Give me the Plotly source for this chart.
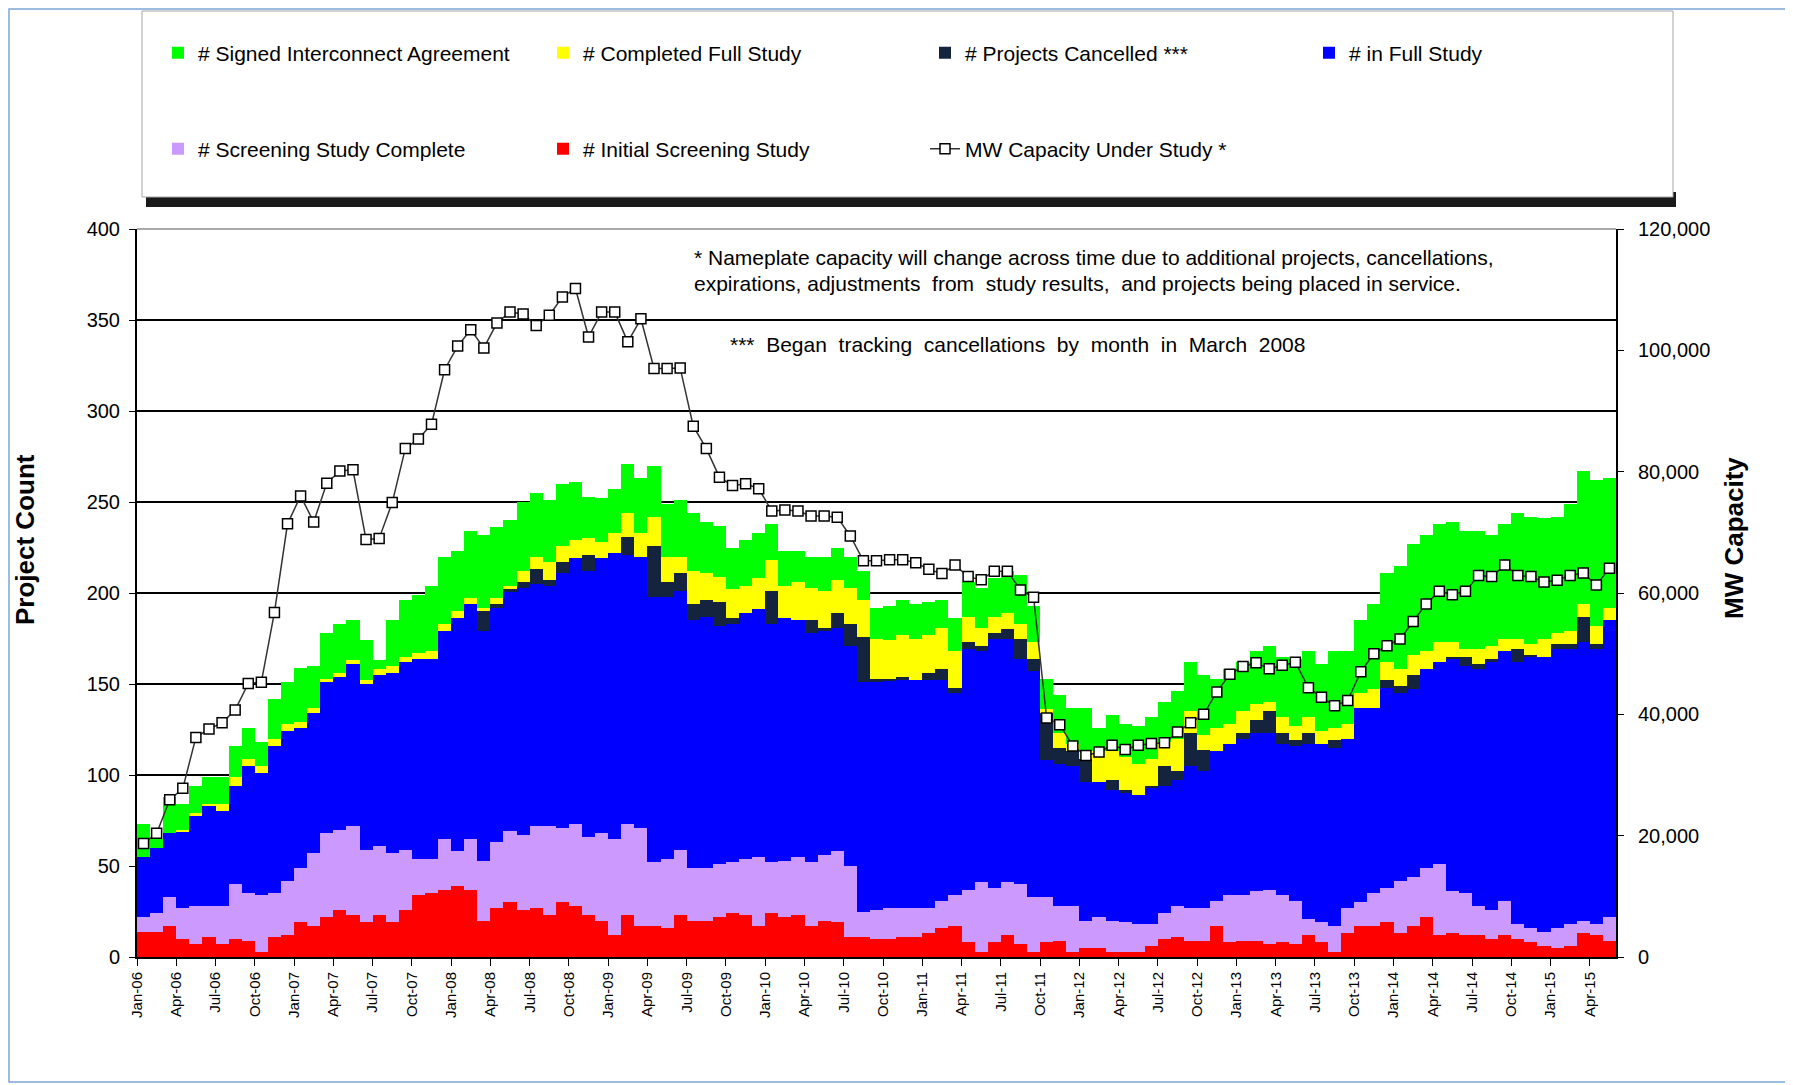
import pandas as pd
import plotly.graph_objects as go

# monthly categories Jan-06 .. May-15
months = pd.date_range('2006-01-01', periods=113, freq='MS').strftime('%b-%y').tolist()

initial_screening = [14, 14, 17, 10, 7, 11, 7, 10, 9, 3,
                     11, 12, 19, 17, 22, 26, 23, 19, 23, 19,
                     26, 34, 35, 37, 39, 37, 20, 27, 30, 26,
                     27, 23, 30, 28, 23, 20, 12, 23, 17, 17,
                     16, 23, 20, 20, 22, 24, 23, 17, 24, 22,
                     23, 17, 20, 19, 11, 11, 10, 10, 11, 11,
                     13, 16, 17, 8, 3, 8, 12, 7, 3, 8,
                     9, 3, 5, 5, 3, 3, 3, 6, 10, 11,
                     9, 9, 17, 8, 9, 9, 7, 8, 7, 12,
                     8, 3, 13, 17, 17, 19, 13, 17, 22, 12,
                     13, 12, 12, 10, 12, 10, 8, 6, 5, 6,
                     13, 12, 9]

screening_complete = [8, 10, 16, 17, 21, 17, 21, 30, 26, 31,
                      24, 30, 30, 40, 46, 44, 49, 40, 38, 38,
                      33, 20, 19, 28, 19, 28, 33, 36, 39, 41,
                      45, 49, 41, 45, 43, 48, 53, 50, 54, 35,
                      38, 36, 29, 29, 29, 28, 31, 38, 28, 31,
                      32, 35, 36, 39, 39, 14, 16, 17, 16, 16,
                      14, 15, 17, 29, 38, 30, 29, 33, 30, 25,
                      19, 25, 15, 17, 17, 16, 15, 12, 14, 17,
                      18, 18, 14, 26, 25, 27, 30, 26, 24, 9,
                      11, 14, 14, 13, 18, 19, 29, 27, 27, 39,
                      23, 23, 16, 16, 19, 8, 8, 8, 11, 12,
                      7, 6, 13]

full_study = [33, 36, 35, 42, 50, 55, 52, 54, 70, 67,
              81, 82, 77, 77, 83, 84, 89, 91, 94, 99,
              103, 110, 110, 114, 128, 129, 126, 129, 132, 136,
              133, 132, 140, 146, 146, 151, 157, 148, 149, 146,
              144, 142, 136, 138, 131, 131, 135, 136, 131, 133,
              130, 126, 123, 123, 121, 126, 125, 125, 125, 125,
              125, 121, 111, 132, 127, 137, 134, 124, 124, 75,
              78, 77, 76, 74, 72, 71, 71, 75, 70, 69,
              78, 75, 82, 83, 86, 87, 86, 83, 85, 96,
              98, 98, 93, 107, 102, 110, 103, 103, 109, 111,
              128, 125, 130, 136, 137, 144, 149, 151, 153, 151,
              153, 151, 163]

cancelled = [0, 0, 0, 0, 0, 0, 0, 0, 0, 0,
             0, 0, 0, 0, 0, 0, 0, 0, 0, 0,
             0, 0, 0, 0, 0, 0, 11, 2, 1, 3,
             8, 3, 6, 0, 9, 0, 0, 10, 0, 28,
             8, 10, 9, 9, 13, 3, 0, 0, 18, 0,
             0, 7, 2, 8, 12, 25, 2, 1, 2, 0,
             4, 6, 3, 4, 3, 3, 5, 11, 7, 26,
             9, 8, 13, 0, 5, 2, 0, 1, 11, 5,
             18, 12, 0, 0, 3, 7, 12, 6, 3, 6,
             0, 4, 0, 0, 0, 4, 4, 8, 0, 0,
             1, 5, 3, 2, 0, 7, 1, 0, 3, 3,
             14, 3, 0]

completed = [0, 0, 0, 1, 1, 1, 4, 5, 4, 4,
             4, 4, 3, 3, 2, 2, 2, 2, 3, 4,
             3, 3, 4, 4, 4, 3, 2, 3, 2, 6,
             7, 10, 9, 10, 9, 9, 11, 13, 13, 16,
             14, 9, 18, 15, 14, 16, 15, 17, 17, 18,
             21, 18, 20, 18, 20, 20, 22, 21, 23, 23,
             21, 23, 20, 14, 10, 9, 9, 8, 9, 2,
             8, 4, 4, 17, 16, 18, 17, 15, 13, 18,
             12, 8, 13, 11, 12, 9, 5, 9, 8, 9,
             7, 7, 8, 8, 10, 10, 9, 11, 10, 11,
             8, 4, 8, 7, 7, 6, 6, 10, 6, 7,
             7, 10, 7]

signed = [18, 5, 20, 14, 15, 15, 15, 17, 17, 13,
          22, 23, 30, 23, 25, 27, 22, 22, 5, 25,
          31, 32, 36, 37, 33, 37, 40, 39, 36, 38,
          35, 34, 34, 32, 23, 24, 24, 27, 30, 28,
          29, 31, 32, 28, 28, 23, 25, 25, 20, 19,
          17, 17, 19, 18, 17, 16, 17, 19, 19, 19,
          18, 15, 18, 19, 22, 21, 23, 27, 20, 17,
          21, 20, 24, 13, 20, 18, 21, 23, 22, 26,
          27, 33, 27, 30, 27, 29, 31, 33, 37, 36,
          37, 42, 40, 40, 47, 49, 57, 61, 64, 65,
          66, 65, 65, 61, 63, 69, 70, 66, 64, 70,
          73, 80, 71]

mw_capacity = [18700, 20400, 25900, 27800, 36200, 37600, 38600, 40700, 45100, 45300,
               56800, 71400, 76000, 71700, 78100, 80100, 80300, 68800, 69000, 74900,
               83800, 85400, 87800, 96800, 100700, 103400, 100400, 104500, 106300, 106000,
               104100, 105800, 108800, 110200, 102200, 106300, 106300, 101400, 105200, 97000,
               97000, 97100, 87500, 83800, 79100, 77700, 78000, 77200, 73500, 73700,
               73500, 72700, 72700, 72500, 69400, 65300, 65300, 65500, 65500, 65000,
               63900, 63200, 64600, 62700, 62200, 63600, 63600, 60500, 59300, 39400,
               38300, 34800, 33200, 33800, 34900, 34200, 34900, 35200, 35300, 37100,
               38600, 40000, 43700, 46600, 47900, 48500, 47500, 48100, 48600, 44400,
               42800, 41400, 42300, 47000, 50000, 51300, 52400, 55300, 58200, 60300,
               59700, 60300, 62900, 62700, 64600, 62900, 62700, 61800, 62100, 62900,
               63300, 61300, 64100]

x = list(range(len(months)))

# the page puts the figure 8px in from the top-left corner, so targets are
# screen pixels and get shifted back by OFF
OFF = 8
L, R, T, B = 129, 1608, 221, 949


def px(sx):
    return (sx - OFF - L) / (R - L)


def py(sy):
    return (B - (sy - OFF)) / (B - T)


fig = go.Figure()

# (name, values, colour, legend id, legend text start x, legend row y)
series = [
    ('# Initial Screening Study', initial_screening, '#FF0000', 'legend7', 583, 149),
    ('# Screening Study Complete', screening_complete, '#CC99FF', 'legend6', 198, 149),
    ('# in Full Study', full_study, '#0000FF', 'legend5', 1349, 53),
    ('# Projects Cancelled ***', cancelled, '#14243F', 'legend4', 965, 53),
    ('# Completed Full Study', completed, '#FFFF00', 'legend3', 583, 53),
    ('# Signed Interconnect Agreement', signed, '#00FF00', 'legend2', 198, 53),
]

legends = {}
for name, vals, color, leg, lx, ly in series:
    fig.add_trace(go.Bar(
        x=x,
        y=vals,
        name=name,
        width=1,
        marker=dict(color=color, line=dict(width=0)),
        legend=leg
    ))
    legends[leg] = (lx, ly)

fig.add_trace(go.Scatter(
    x=x,
    y=mw_capacity,
    name='MW Capacity Under Study *',
    yaxis='y2',
    mode='lines+markers',
    line=dict(color='#333333', width=1.5),
    marker=dict(symbol='square', size=10, color='white', line=dict(color='black', width=1.5)),
    legend='legend8'
))
legends['legend8'] = (965, 149)

legend_layout = {}
for leg, (lx, ly) in legends.items():
    legend_layout[leg] = dict(
        orientation='h',
        x=(lx - 40 - OFF - L) / (R - L),
        y=py(ly),
        xanchor='left',
        yanchor='middle',
        bgcolor='rgba(0,0,0,0)',
        font=dict(size=21)
    )

fig.update_layout(
    width=1793,
    height=1085,
    barmode='stack',
    bargap=0,
    showlegend=True,
    margin=dict(l=L, r=1793 - R, t=T, b=1085 - B),
    paper_bgcolor='white',
    plot_bgcolor='white',
    font=dict(family='Liberation Sans, Arial, sans-serif', size=18, color='black'),
    xaxis=dict(
        range=[-0.5, len(x) - 0.5],
        tickvals=[i - 0.5 for i in x[::3]],
        ticktext=months[::3],
        tickangle=-90,
        ticks='outside',
        ticklen=7,
        tickcolor='black',
        showline=True,
        linecolor='black',
        linewidth=2,
        showgrid=False,
        zeroline=False,
        tickfont=dict(size=15)
    ),
    yaxis=dict(
        range=[0, 400],
        dtick=50,
        showgrid=True,
        gridcolor='black',
        gridwidth=1.5,
        ticks='outside',
        ticklen=6,
        tickcolor='black',
        ticklabelstandoff=5,
        showline=True,
        linecolor='black',
        linewidth=2,
        zeroline=False,
        tickfont=dict(size=20)
    ),
    yaxis2=dict(
        overlaying='y',
        side='right',
        range=[0, 120000],
        dtick=20000,
        tickformat=',',
        showgrid=False,
        ticks='outside',
        ticklen=6,
        tickcolor='black',
        ticklabelstandoff=10,
        showline=True,
        linecolor='black',
        linewidth=2,
        zeroline=False,
        tickfont=dict(size=20)
    ),
    shapes=[
        # outer frame
        dict(type='rect', xref='paper', yref='paper',
             x0=px(9), x1=px(1786), y0=py(1082), y1=py(9),
             line=dict(color='#7FA7D8', width=1.5), layer='below'),
        # legend box shadow + box
        dict(type='rect', xref='paper', yref='paper',
             x0=px(146), x1=px(1676), y0=py(207), y1=py(192),
             fillcolor='#1A1A1A', line=dict(width=0), layer='below'),
        dict(type='rect', xref='paper', yref='paper',
             x0=px(142), x1=px(1673), y0=py(197), y1=py(11),
             fillcolor='white', line=dict(color='#A6A6A6', width=1), layer='below'),
        # top border of plot area
        dict(type='line', xref='paper', yref='paper',
             x0=0, x1=1, y0=1, y1=1,
             line=dict(color='#8C8C8C', width=1.5)),
    ],
    annotations=[
        dict(text='<b>Project Count</b>', xref='paper', yref='paper',
             x=px(25), y=py(540), xanchor='center', yanchor='middle',
             textangle=-90, showarrow=False, font=dict(size=26)),
        dict(text='<b>MW Capacity</b>', xref='paper', yref='paper',
             x=px(1734), y=py(538), xanchor='center', yanchor='middle',
             textangle=-90, showarrow=False, font=dict(size=26)),
        dict(text='* Nameplate capacity will change across time due to additional projects, cancellations,',
             xref='paper', yref='paper', x=px(692), y=py(258),
             xanchor='left', yanchor='middle', showarrow=False,
             font=dict(size=21)),
        dict(text='expirations, adjustments  from  study results,  and projects being placed in service.',
             xref='paper', yref='paper', x=px(692), y=py(283),
             xanchor='left', yanchor='middle', showarrow=False,
             font=dict(size=21)),
        dict(text='***  Began  tracking  cancellations  by  month  in  March  2008',
             xref='paper', yref='paper', x=px(728), y=py(344),
             xanchor='left', yanchor='middle', showarrow=False,
             font=dict(size=21)),
    ],
    **legend_layout
)

fig.write_html('out.html')
